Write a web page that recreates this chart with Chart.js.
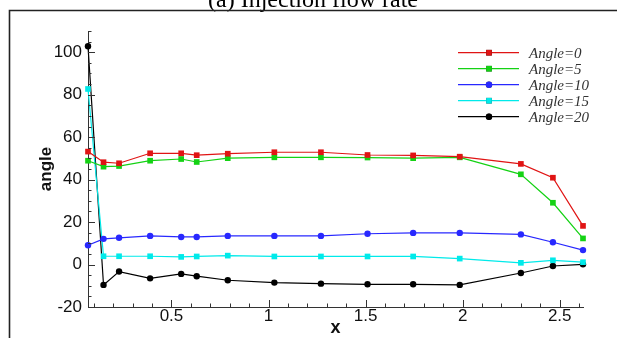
<!DOCTYPE html>
<html lang="en">
<head>
    <meta charset="UTF-8">
    <title>Injection flow rate</title>
    <script src="https://cdn.jsdelivr.net/npm/chart.js"></script>
    <style>
        body {
            margin: 0;
            padding: 0;
            background-color: #ffffff;
        }
        #chart {
            display: block;
        }
    </style>
</head>
<body>
    <canvas id="chart" width="617" height="338"></canvas>

    <script>
        // data
        const xValues = [0.07, 0.15, 0.23, 0.39, 0.55, 0.63, 0.79, 1.03, 1.27, 1.51, 1.745, 1.985, 2.30, 2.465, 2.62];
        const angle0  = [53.2, 48.2, 47.7, 52.4, 52.4, 51.5, 52.2, 52.9, 52.9, 51.6, 51.4, 50.8, 47.4, 40.9, 18.2];
        const angle5  = [48.9, 46.1, 46.4, 48.9, 49.7, 48.3, 50.1, 50.5, 50.5, 50.4, 50.1, 50.5, 42.5, 29.1, 12.3];
        const angle10 = [9.1, 12.1, 12.6, 13.5, 13.0, 13.0, 13.5, 13.5, 13.5, 14.5, 14.9, 14.9, 14.2, 10.5, 6.8];
        const angle15 = [82.7, 3.9, 3.9, 3.9, 3.6, 3.8, 4.2, 3.8, 3.8, 3.8, 3.8, 2.8, 0.8, 2.0, 1.1];
        const angle20 = [102.8, -9.6, -3.3, -6.5, -4.4, -5.5, -7.4, -8.5, -9.0, -9.3, -9.3, -9.6, -4.0, -0.7, 0.1];
        const seriesNames = ['Angle=0', 'Angle=5', 'Angle=10', 'Angle=15', 'Angle=20'];
        const xTickValues = [0.5, 1, 1.5, 2, 2.5];
        const yTickValues = [-20, 0, 20, 40, 60, 80, 100];

        const seriesValues = [angle0, angle5, angle10, angle15, angle20];
        const colors = ['#e01414', '#14d214', '#2828ff', '#00eaea', '#000000'];
        const markers = ['rect', 'rect', 'circle', 'rect', 'circle'];

        const datasets = seriesValues.map((vals, i) => ({
            label: seriesNames[i],
            data: vals.map((v, j) => ({ x: xValues[j], y: v })),
            borderColor: colors[i],
            backgroundColor: colors[i],
            borderWidth: 1.2,
            pointStyle: markers[i],
            pointRadius: markers[i] === 'rect' ? 4 : 3.2,
            pointBorderWidth: 0,
            tension: 0,
            clip: false
        }));

        // frame, title, inward ticks and the legend
        const decorations = {
            id: 'decorations',
            afterDraw(chart) {
                const ctx = chart.ctx;
                const xs = chart.scales.x;
                const ys = chart.scales.y;
                const area = chart.chartArea;
                ctx.save();

                // cut off title and frame
                ctx.fillStyle = '#000';
                ctx.font = '24px "Liberation Serif"';
                ctx.textAlign = 'center';
                ctx.textBaseline = 'alphabetic';
                ctx.fillText('(a) Injection flow rate', 313, 7);

                ctx.strokeStyle = '#222';
                ctx.lineWidth = 1.6;
                ctx.beginPath();
                ctx.moveTo(617, 10.5);
                ctx.lineTo(9.5, 10.5);
                ctx.lineTo(9.5, 338);
                ctx.stroke();

                // ticks pointing into the plot
                ctx.strokeStyle = '#333';
                ctx.lineWidth = 1;
                ctx.beginPath();
                for (let v = -20; v <= 110; v += 5) {
                    const py = Math.round(ys.getPixelForValue(v)) + 0.5;
                    const len = v % 20 === 0 ? 7 : 3.5;
                    ctx.moveTo(area.left, py);
                    ctx.lineTo(area.left + len, py);
                }
                for (let k = 1; k <= 26; k++) {
                    const px = Math.round(xs.getPixelForValue(k / 10)) + 0.5;
                    const len = k % 5 === 0 ? 7 : 3.5;
                    ctx.moveTo(px, area.bottom);
                    ctx.lineTo(px, area.bottom - len);
                }
                ctx.stroke();

                // legend
                ctx.textAlign = 'left';
                ctx.textBaseline = 'middle';
                ctx.font = 'italic 15px "Liberation Serif"';
                chart.data.datasets.forEach((ds, i) => {
                    const y = 52.7 + i * 16;
                    ctx.strokeStyle = ds.borderColor;
                    ctx.lineWidth = 1.2;
                    ctx.beginPath();
                    ctx.moveTo(458, y);
                    ctx.lineTo(519, y);
                    ctx.stroke();
                    Chart.helpers.drawPoint(ctx, {
                        pointStyle: ds.pointStyle,
                        radius: ds.pointRadius,
                        borderWidth: 0
                    }, 489, y);
                    ctx.fillStyle = ds.backgroundColor;
                    ctx.fill();
                    ctx.fillStyle = '#333';
                    ctx.fillText(ds.label, 529, y + 1);
                });
                ctx.restore();
            }
        };

        const tickFont = { family: '"Liberation Sans", Arial, sans-serif', size: 17, lineHeight: 1 };
        const titleFont = { family: '"Liberation Sans", Arial, sans-serif', size: 17, weight: 'bold', lineHeight: 1.2 };

        new Chart(document.getElementById('chart'), {
            type: 'line',
            data: { datasets: datasets },
            options: {
                responsive: false,
                animation: false,
                layout: { padding: { left: 0, top: 31, right: 34, bottom: 0 } },
                plugins: {
                    legend: { display: false },
                    title: { display: false },
                    tooltip: { enabled: false }
                },
                scales: {
                    x: {
                        type: 'linear',
                        min: 0.07,
                        max: 2.62,
                        afterBuildTicks: s => { s.ticks = xTickValues.map(v => ({ value: v })); },
                        afterFit: s => { s.height = 31; },
                        grid: { display: false, drawTicks: false },
                        border: { display: true, color: '#333', width: 1 },
                        ticks: {
                            color: '#111',
                            font: tickFont,
                            padding: 1,
                            maxRotation: 0,
                            autoSkip: false,
                            callback: v => String(v)
                        },
                        title: {
                            display: true,
                            text: 'x',
                            color: '#111',
                            font: { family: titleFont.family, size: 18, weight: 'bold', lineHeight: 1 },
                            padding: { top: 0, bottom: 1 }
                        }
                    },
                    y: {
                        min: -20,
                        max: 110,
                        afterBuildTicks: s => { s.ticks = yTickValues.map(v => ({ value: v })); },
                        afterFit: s => { s.width = 88; },
                        grid: { display: false, drawTicks: false },
                        border: { display: true, color: '#333', width: 1 },
                        ticks: {
                            color: '#111',
                            font: tickFont,
                            padding: 6
                        },
                        title: {
                            display: true,
                            text: 'angle',
                            color: '#111',
                            font: titleFont,
                            padding: { top: 36, bottom: 0 }
                        }
                    }
                }
            },
            plugins: [decorations]
        });
    </script>
</body>
</html>
